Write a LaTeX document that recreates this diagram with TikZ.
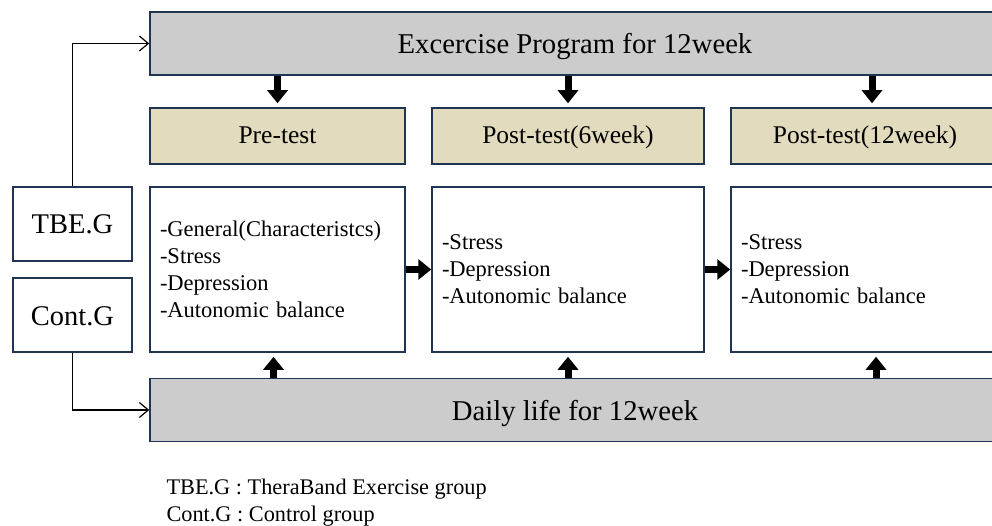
\documentclass[tikz,border=0pt]{standalone}
\usepackage{fontspec}
\setmainfont{Liberation Serif}
\usetikzlibrary{arrows.meta}
\definecolor{boxline}{HTML}{1F3552}
\definecolor{barfill}{HTML}{CCCCCC}
\definecolor{testfill}{HTML}{E2DBBE}

\begin{document}
\begin{tikzpicture}[x=1pt,y=-1pt,
  box/.style={draw=boxline,line width=1.5pt,rectangle,inner sep=0pt},
  barbox/.style={box,fill=barfill,minimum height=63pt,minimum width=850pt,text height=21pt,text depth=0pt,font=\fontsize{28.7}{34}\selectfont},
  testbox/.style={box,fill=testfill,minimum height=56pt,text height=16pt,text depth=0pt,font=\fontsize{25.5}{30}\selectfont},
  itembox/.style={box,fill=white,minimum height=165pt,align=left,inner xsep=10pt,font=\fontsize{22.5}{27}\selectfont},
  groupbox/.style={box,fill=white,minimum width=119pt,minimum height=74pt,text height=20pt,text depth=0pt,font=\fontsize{28.5}{34}\selectfont},
  bigarrow/.style={line width=7pt,draw=black,-{Triangle[length=13pt,width=20pt]}},
  thinarrow/.style={line width=1.2pt,-{Straight Barb[length=9pt,width=15pt]}}]
\useasboundingbox (0,0) rectangle (992,526);
\clip (0,0) rectangle (992,526);

\node[barbox] (prog) at (575,43.5) {Excercise Program for 12week};
\node[barbox] (daily) at (575,410) {Daily life for 12week};

\node[testbox,minimum width=255pt] (pre) at (277.5,136) {Pre-test};
\node[testbox,minimum width=272pt] (post6) at (568,136) {Post-test(6week)};
\node[testbox,minimum width=268pt] (post12) at (865,136) {Post-test(12week)};

\node[itembox,text width=235pt] (preitem) at (277.5,269.5)
  {-General(Characteristcs)\\-Stress\\-Depression\\-Autonomic balance};
\node[itembox,text width=252pt] (post6item) at (568,269.5)
  {-Stress\\-Depression\\-Autonomic balance};
\node[itembox,text width=248pt] (post12item) at (865,269.5)
  {-Stress\\-Depression\\-Autonomic balance};

\node[groupbox] (tbe) at (72.5,224) {TBE.G};
\node[groupbox] (cont) at (72.5,315) {Cont.G};

\node[anchor=west,align=left,font=\fontsize{22.3}{26.5}\selectfont] (legend) at (163,502.5)
  {TBE.G : TheraBand Exercise group\\Cont.G : Control group};

\draw[thinarrow] (tbe.north) |- (prog.west);
\draw[thinarrow] (cont.south) |- (daily.west);

\draw[bigarrow] (prog.south -| pre.north) -- ([yshift=4pt]pre.north);
\draw[bigarrow] (prog.south -| post6.north) -- ([yshift=4pt]post6.north);
\draw[bigarrow] ([xshift=7pt]prog.south -| post12.north) -- ([xshift=7pt,yshift=4pt]post12.north);

\draw[bigarrow] ([xshift=-4pt]daily.north -| preitem.south) -- ([xshift=-4pt,yshift=-4pt]preitem.south);
\draw[bigarrow] (daily.north -| post6item.south) -- ([yshift=-4pt]post6item.south);
\draw[bigarrow] ([xshift=11pt]daily.north -| post12item.south) -- ([xshift=11pt,yshift=-4pt]post12item.south);

\draw[bigarrow] (preitem.east) -- (post6item.west);
\draw[bigarrow] (post6item.east) -- (post12item.west);
\end{tikzpicture}
\end{document}
